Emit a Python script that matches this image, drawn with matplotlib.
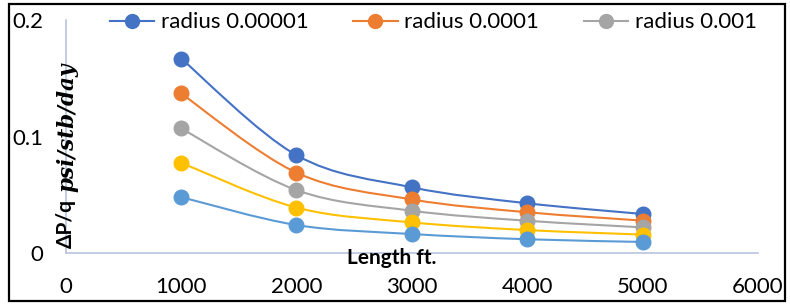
import numpy as np
import matplotlib
matplotlib.use('Agg')
import matplotlib.pyplot as plt
from matplotlib.path import Path
from matplotlib.patches import PathPatch, Rectangle
from matplotlib.lines import Line2D

# data
length = [1000, 2000, 3000, 4000, 5000]
r_00001 = [0.167, 0.084, 0.0564, 0.0427, 0.0335]
r_0001 = [0.137, 0.069, 0.046, 0.035, 0.0278]
r_001 = [0.107, 0.054, 0.0363, 0.0277, 0.0220]
r_4 = [0.0775, 0.039, 0.0263, 0.0197, 0.0158]
r_5 = [0.048, 0.024, 0.0163, 0.0118, 0.0095]

labels = ['radius 0.00001', 'radius 0.0001', 'radius 0.001', None, None]
colors = ['#4472C4', '#ED7D31', '#A5A5A5', '#FFC000', '#5B9BD5']

plt.rcParams['font.family'] = ['Lato', 'DejaVu Sans']


def smooth_path(x, y):
    # excel-like smoothed line: cubic bezier segments with catmull-rom tangents
    pts = np.column_stack([x, y]).astype(float)
    n = len(pts)
    verts = [pts[0]]
    codes = [Path.MOVETO]
    for i in range(n - 1):
        p0 = pts[max(i - 1, 0)]
        p1 = pts[i]
        p2 = pts[i + 1]
        p3 = pts[min(i + 2, n - 1)]
        c1 = p1 + (p2 - p0) / 6.0
        c2 = p2 - (p3 - p1) / 6.0
        verts += [c1, c2, p2]
        codes += [Path.CURVE4] * 3
    return Path(verts, codes)


fig = plt.figure(figsize=(7.9, 3.05), dpi=100)
ax = fig.add_axes([0.0832, 0.1705, 0.8763, 0.7635])

series = [r_00001, r_0001, r_001, r_4, r_5]
handles = []
for vals, c, lab in zip(series, colors, labels):
    ax.add_patch(PathPatch(smooth_path(length, vals), facecolor='none',
                           edgecolor=c, lw=1.5, zorder=2))
    ax.plot(length, vals, 'o', color=c, ms=10.5, zorder=3)
    if lab:
        handles.append(Line2D([], [], color=c, lw=1.5, marker='o', ms=10,
                              label=lab))

ax.set_xlim(0, 6000)
ax.set_ylim(0, 0.2)
ax.set_xticks(range(0, 7000, 1000))
ax.set_yticks([0, 0.1, 0.2])
ax.set_yticklabels(['0', '0.1', '0.2'])
ax.tick_params(length=0, labelsize=16)
ax.tick_params(axis='x', pad=17)
ax.tick_params(axis='y', pad=16)
for s in ['top', 'right']:
    ax.spines[s].set_visible(False)
for s in ['left', 'bottom']:
    ax.spines[s].set_color('#B8C4DE')
    ax.spines[s].set_linewidth(1.2)

ax.text(0.471, -0.021, 'Length ft.', transform=ax.transAxes, ha='center',
        va='center', fontsize=15, fontweight='bold')

# y label in two pieces: plain bold + bold italic serif
fig.text(66 / 790, 1 - 223 / 305, 'ΔP/q', rotation=90, ha='center',
         va='center', fontsize=15, fontweight='bold')
fig.text(67 / 790, 1 - 127 / 305, 'psi/stb/day', rotation=90, ha='center',
         va='center', fontsize=15.5, fontweight='bold', fontstyle='italic',
         family='DejaVu Serif')

ax.legend(handles=handles, loc='center', bbox_to_anchor=(0.531, 0.99),
          ncol=3, frameon=False, fontsize=16, handlelength=2.0,
          handletextpad=0.3, columnspacing=2.0, borderpad=0)

fig.add_artist(Rectangle((9 / 790, 4 / 305), 776 / 790, 297 / 305,
                         transform=fig.transFigure, fill=False,
                         edgecolor='black', lw=1.6))

fig.savefig('out.png', dpi=100)
